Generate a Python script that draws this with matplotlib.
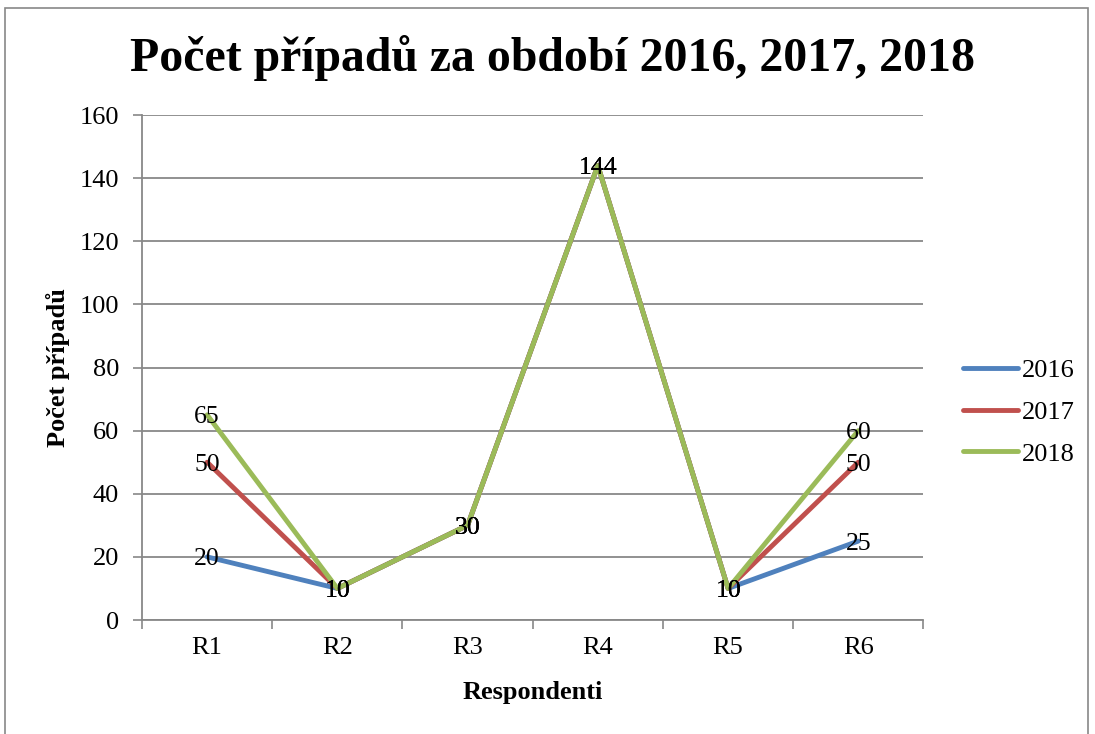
import matplotlib.pyplot as plt
import matplotlib.patches as mpatches
import numpy as np

# data
categories = ['R1', 'R2', 'R3', 'R4', 'R5', 'R6']
years = ['2016', '2017', '2018']
values_2016 = [20, 10, 30, 144, 10, 25]
values_2017 = [50, 10, 30, 144, 10, 50]
values_2018 = [65, 10, 30, 144, 10, 60]
colors = ['#4F81BD', '#C0504D', '#9BBB59']

plt.rcParams['font.family'] = ['Liberation Serif', 'DejaVu Serif']

fig = plt.figure(figsize=(10.95, 7.34), dpi=100)
ax = fig.add_axes([0.1297, 0.1553, 0.7136, 0.688])

# outer chart border (Excel style)
fig.patches.append(mpatches.Rectangle((0.005, -0.01), 0.989, 0.999, transform=fig.transFigure,
                                      fill=False, edgecolor='#888888', linewidth=1.2))

x = np.arange(len(categories))
for vals, year, col in zip([values_2016, values_2017, values_2018], years, colors):
    ax.plot(x, vals, color=col, linewidth=3.5, label=year, solid_capstyle='round')
    for xi, v in zip(x, vals):
        ax.text(xi, v - 0.8, str(v), ha='center', va='center', fontsize=18.5, color='black')

ax.set_xlim(-0.5, 5.5)
ax.set_ylim(0, 160)
ax.set_yticks(range(0, 161, 20))
ax.set_xticks(x)
ax.set_xticklabels(categories)
ax.set_xticks(np.arange(-0.5, 6, 1), minor=True)
ax.tick_params(axis='x', which='major', length=0, pad=12, labelsize=19)
ax.tick_params(axis='x', which='minor', length=6.5, color='#888888', width=1.2)
ax.tick_params(axis='y', length=6.5, color='#888888', width=1.2, labelsize=19, pad=10)

ax.grid(axis='y', color='#888888', linewidth=1.3)
ax.set_axisbelow(True)
for s in ['top', 'right']:
    ax.spines[s].set_visible(False)
for s in ['left', 'bottom']:
    ax.spines[s].set_color('#888888')
    ax.spines[s].set_linewidth(1.3)

ax.set_xlabel('Respondenti', fontsize=19, fontweight='bold', va='center')
ax.xaxis.set_label_coords(0.5, -0.1426)
ax.set_ylabel('Počet případů', fontsize=19, fontweight='bold', va='center')
ax.yaxis.set_label_coords(-0.1076, 0.5)

fig.text(0.505, 0.921, 'Počet případů za období 2016, 2017, 2018', ha='center', va='center',
         fontsize=34.4, fontweight='bold')

ax.legend(loc='center left', bbox_to_anchor=(963 / 1095, 1 - 412 / 734),
          bbox_transform=fig.transFigure, frameon=False, fontsize=19,
          handlelength=2.1, labelspacing=0.7, handletextpad=0.12,
          borderpad=0, borderaxespad=0)

fig.savefig('out.png', dpi=100)
